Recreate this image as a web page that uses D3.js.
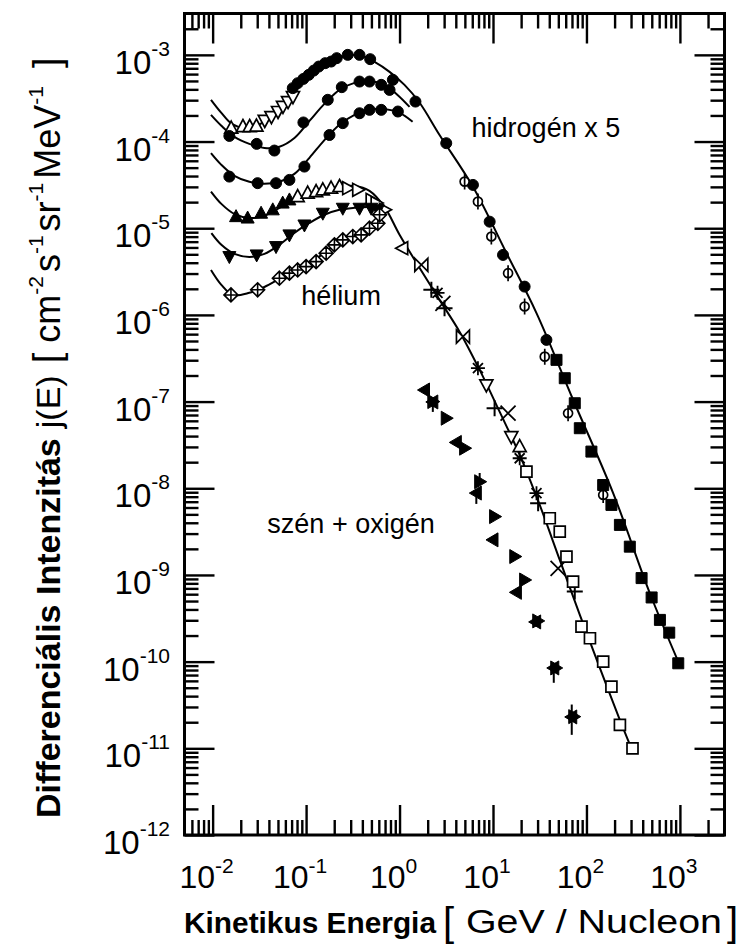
<!DOCTYPE html>
<html><head><meta charset="utf-8">
<script src="https://cdn.jsdelivr.net/npm/d3@7"></script>
<style>
body{margin:0;background:#fff}
svg{display:block}
text{font-family:"Liberation Sans",Arial,Helvetica,sans-serif;fill:#000}
</style>
</head><body>
<svg id="chart" width="743" height="944"></svg>
<script>
// ---------------- data (E in GeV/nucleon, j in cm^-2 s^-1 sr^-1 MeV^-1) ----------------
const xMajorExp = [-2,-1,0,1,2,3];
const yMajorExp = [-3,-4,-5,-6,-7,-8,-9,-10,-11,-12];

// model curves (solid lines)
const hCurveTop = [[0.0096,3.03e-4],[0.0124,2.14e-4],[0.016,1.6e-4],[0.0218,1.44e-4],[0.0301,1.52e-4],[0.0405,1.93e-4],[0.0557,2.72e-4],[0.0787,4.16e-4],[0.1086,5.88e-4],[0.157,7.87e-4],[0.2275,9.23e-4],[0.291,9.87e-4],[0.392,9.73e-4],[0.54,8.3e-4],[0.782,6.37e-4],[1.13,4.5e-4],[1.64,2.8e-4],[2.68,1.19e-4],[6.1,3.0e-5],[13.9,5.2e-6],[29.2,1.05e-6],[72,1.05e-7],[193,8.8e-9],[477,6.15e-10],[960,1.0e-10]];
const hCurveMid = [[0.0096,2.03e-4],[0.0124,1.52e-4],[0.0171,1.13e-4],[0.0247,9.4e-5],[0.0358,8.45e-5],[0.0518,8.7e-5],[0.075,1.1e-4],[0.1086,1.73e-4],[0.157,2.72e-4],[0.2275,3.95e-4],[0.33,4.75e-4],[0.477,5.0e-4],[0.69,4.5e-4],[0.952,3.45e-4],[1.28,2.51e-4]];
const hCurveLow = [[0.0096,7.35e-5],[0.0124,5.38e-5],[0.0171,4.02e-5],[0.0247,3.43e-5],[0.0358,3.25e-5],[0.0518,3.43e-5],[0.075,4.24e-5],[0.1086,6.49e-5],[0.157,1.04e-4],[0.2275,1.56e-4],[0.33,2.03e-4],[0.477,2.32e-4],[0.69,2.38e-4],[1.0,2.14e-4],[1.38,1.69e-4]];
const heCurveTop = [[0.0096,2.65e-5],[0.0124,1.91e-5],[0.0171,1.46e-5],[0.0247,1.31e-5],[0.0358,1.39e-5],[0.0518,1.72e-5],[0.075,2.12e-5],[0.1086,2.49e-5],[0.157,2.77e-5],[0.2275,3.0e-5],[0.33,3.08e-5],[0.477,2.7e-5],[0.69,1.76e-5],[1.0,8.4e-6],[1.64,3.48e-6],[2.68,1.49e-6],[4.4,6.37e-7],[7.2,2.32e-7],[11.8,7.6e-8],[19.3,2.43e-8],[31.6,6.43e-9],[51.8,1.49e-9],[84.9,3.46e-10],[139,8.45e-11],[228,2.12e-11],[313,9.1e-12]];
const heCurveMid = [[0.0097,8.77e-6],[0.0124,6.43e-6],[0.0171,5.06e-6],[0.0247,4.67e-6],[0.0358,5.06e-6],[0.0518,6.43e-6],[0.075,8.83e-6],[0.1086,1.15e-5],[0.157,1.43e-5],[0.2275,1.63e-5],[0.33,1.72e-5],[0.477,1.76e-5],[0.64,1.76e-5]];
const heCurveLow = [[0.0096,3.3e-6],[0.0124,2.22e-6],[0.0164,1.7e-6],[0.0247,1.8e-6],[0.0358,2.1e-6],[0.0518,2.6e-6],[0.075,3.22e-6],[0.1086,3.98e-6],[0.157,5.19e-6],[0.2275,6.95e-6],[0.33,8.17e-6],[0.477,1.01e-5],[0.67,1.6e-5]];

// hydrogen (x5) measurements
const hTriUpOpen = [[0.0158,1.43e-4],[0.0211,1.49e-4],[0.0249,1.49e-4],[0.0294,1.51e-4]];
const hTriDownOpen = [[0.0361,1.75e-4],[0.0426,1.94e-4],[0.0501,2.22e-4],[0.0566,2.54e-4],[0.0641,2.89e-4],[0.0724,3.30e-4]];
const hCircleTop = [[0.072,4.13e-4],[0.0813,4.71e-4],[0.0936,5.28e-4],[0.1067,5.88e-4],[0.1208,6.59e-4],[0.1366,7.33e-4],[0.16,8.02e-4],[0.1854,8.37e-4],[0.2128,9.16e-4],[0.279,1e-3],[0.3727,1e-3],[0.485,8.92e-4],[0.848,5.15e-4],[1.48,2.89e-4],[3.16,9.57e-5],[6.1,3.16e-5],[9.21,1.19e-5],[12.8,4.92e-6],[21.8,2.12e-6],[37.3,5.15e-7]];
const hCircleMid = [[0.0151,1.16e-4],[0.0296,9.4e-5],[0.0458,7.87e-5],[0.0936,1.66e-4],[0.1706,3.03e-4],[0.241,4.24e-4],[0.373,4.92e-4],[0.477,4.92e-4],[0.637,4.51e-4],[0.782,3.94e-4]];
const hCircleLow = [[0.0151,3.94e-5],[0.0303,3.31e-5],[0.0477,3.31e-5],[0.0663,3.61e-5],[0.096,5.14e-5],[0.178,1.19e-4],[0.247,1.63e-4],[0.373,2.12e-4],[0.477,2.32e-4],[0.637,2.32e-4],[0.96,2.22e-4]];
const hPhi = [[4.97,3.45e-5],[6.9,2.03e-5],[9.6,8.02e-6],[14.5,3.03e-6],[21.8,1.25e-6],[35.8,3.3e-7],[63.6,7.34e-8],[151,8.38e-9]];
const hSquare = [[47.8,3.03e-7],[58.6,1.86e-7],[75,9.57e-8],[84.9,4.93e-8],[113,2.65e-8],[151,1.09e-8],[185,6.43e-9],[228,3.78e-9],[291,2.12e-9],[389,9.2e-10],[498,5.5e-10],[611,3.03e-10],[769,2.16e-10],[960,9.57e-11]];

// helium measurements
const heTriUpFilled = [[0.0178,1.36e-5],[0.0237,1.31e-5],[0.033,1.49e-5],[0.044,1.63e-5],[0.0562,1.95e-5],[0.0663,2.12e-5]];
const heTriUpOpen = [[0.0813,2.32e-5],[0.104,2.54e-5],[0.128,2.65e-5],[0.151,2.77e-5],[0.185,2.9e-5],[0.228,3.03e-5],[19.3,3.03e-8]];
const heTriRightOpen = [[0.279,2.9e-5],[0.357,2.77e-5],[0.497,2.12e-5],[0.562,1.95e-5],[0.69,1.63e-5]];
const heTriDownFilled = [[0.0151,4.71e-6],[0.0296,4.92e-6],[0.0477,6.14e-6],[0.0663,8.38e-6],[0.096,1.09e-5],[0.151,1.49e-5],[0.247,1.70e-5],[0.373,1.70e-5],[0.497,1.70e-5],[0.586,1.63e-5]];
const heDiamond = [[0.0157,1.7e-6],[0.0303,1.95e-6],[0.0518,2.65e-6],[0.0663,3.03e-6],[0.0813,3.3e-6],[0.1,3.61e-6],[0.128,4.12e-6],[0.164,5.15e-6],[0.201,6.43e-6],[0.247,7.33e-6],[0.316,8.02e-6],[0.388,8.38e-6],[0.477,1.0e-5],[0.586,1.14e-5],[0.611,1.43e-5]];
const heTriLeftOpen = [[1.08,5.89e-6]];
const heTriDownOpen = [[8.49,1.56e-7],[15.7,3.94e-8]];
const heBowtie = [[1.71,3.78e-6],[4.77,5.62e-7]];
const hePlus = [[2.19,1.95e-6],[3.03,1.19e-6],[10.4,8.4e-8],[30.4,6.72e-9],[75,6.43e-10]];
const heCross = [[2.91,1.36e-6],[14.5,7.34e-8],[49.7,1.19e-9]];
const heStar = [[2.55,1.8e-6],[6.9,2.43e-7],[19.3,2.22e-8],[29.2,8.77e-9]];
const heSquareOpen = [[22.8,1.56e-8],[40.5,4.51e-9],[51.8,3.16e-9],[61.1,1.63e-9],[71.9,8.38e-10],[88.5,2.54e-10],[109,1.86e-10],[151,1.0e-10],[185,5.15e-11],[228,1.86e-11],[311,1.0e-11]];

// carbon + oxygen measurements: [E, j, lower, upper] (null = no error bar)
const coLeft = [[1.85,1.36e-7,null,null],[2.27,9.9e-8,7.6e-8,null],[4.05,3.38e-8,null,null],[6.63,8.8e-9,6.6e-9,null],[10.0,2.54e-9,null,null],[17.8,6.3e-10,null,null],[28.6,2.87e-10,null,null],[44.7,8.45e-11,5.7e-11,null],[69.6,2.3e-11,1.43e-11,3.2e-11]];
const coRight = [[2.27,1.0e-7,null,null],[3.16,6.43e-8,null,null],[4.97,2.9e-8,null,null],[7.2,1.19e-8,null,1.5e-8],[10.4,4.71e-9,null,null],[17.1,1.63e-9,null,null],[21.8,8.75e-10,null,null],[30.1,2.95e-10,null,null],[46.9,8.45e-11,null,null],[73.1,2.32e-11,null,null]];

const labels = [
  {text:"hidrogén x 5", E:5.9, j:1.12e-4},
  {text:"hélium", E:0.089, j:1.3e-6},
  {text:"szén + oxigén", E:0.0385, j:3.05e-9}
];

// ---------------- drawing ----------------
const svg = d3.select("#chart");
const x = d3.scaleLog().domain([0.005,3000]).range([184.5,724.5]);
const y = d3.scaleLog().domain([1e-12,3e-3]).range([835,13.5]);
const [X0,X1] = x.range(), [Y0,Y1] = y.range();

function minors(lo,hi){
  const out=[];
  for(let e=-13;e<=4;e++) for(let k=2;k<=9;k++){const v=k*Math.pow(10,e); if(v>lo*1.0001&&v<hi*0.9999) out.push(v);}
  return out;
}
const xMajor = xMajorExp.map(e=>Math.pow(10,e));
const yMajor = yMajorExp.map(e=>Math.pow(10,e));
const xMinor = minors(0.005,3000);
const yMinor = minors(1e-12,3e-3);

const axesG = svg.append("g");
function addAxis(gen, vals, size, tr){
  const g = axesG.append("g").attr("transform",tr)
    .call(gen.tickValues(vals).tickSize(size).tickSizeOuter(0).tickFormat(""));
  g.select(".domain").remove();
  g.selectAll("line").attr("stroke","#000").attr("stroke-width",2.4);
}
addAxis(d3.axisBottom(x), xMajor, -30, `translate(0,${Y0})`);
addAxis(d3.axisBottom(x), xMinor, -15, `translate(0,${Y0})`);
addAxis(d3.axisTop(x), xMajor, -30, `translate(0,${Y1})`);
addAxis(d3.axisTop(x), xMinor, -15, `translate(0,${Y1})`);
addAxis(d3.axisLeft(y), yMajor, -30, `translate(${X0},0)`);
addAxis(d3.axisLeft(y), yMinor, -14, `translate(${X0},0)`);
addAxis(d3.axisRight(y), yMajor, -30, `translate(${X1},0)`);
addAxis(d3.axisRight(y), yMinor, -14, `translate(${X1},0)`);

svg.append("rect").attr("x",X0).attr("y",Y1).attr("width",X1-X0).attr("height",Y0-Y1)
  .attr("fill","none").attr("stroke","#000").attr("stroke-width",3);

// tick labels
xMajorExp.forEach(e=>{
  const t = svg.append("text").attr("x",x(Math.pow(10,e))-6).attr("y",888).attr("text-anchor","middle");
  t.append("tspan").attr("font-size",32).text("10");
  t.append("tspan").attr("font-size",21).attr("dy",-15).text(String(e));
});
yMajorExp.forEach(e=>{
  const t = svg.append("text").attr("x",170).attr("y",y(Math.pow(10,e))+19).attr("text-anchor","end");
  t.append("tspan").attr("font-size",33).text("10");
  t.append("tspan").attr("font-size",21).attr("dy",-18).text(String(e));
});

// x axis title (pieces placed along the baseline)
const xTitle = svg.append("g");
xTitle.append("text").attr("x",184).attr("y",933).attr("font-weight","bold").attr("font-size",30)
  .attr("textLength",252).attr("lengthAdjust","spacingAndGlyphs").text("Kinetikus Energia");
xTitle.append("text").attr("x",443).attr("y",936).attr("font-size",40).text("[");
xTitle.append("text").attr("x",466).attr("y",933).attr("font-size",34)
  .attr("textLength",256).attr("lengthAdjust","spacingAndGlyphs").text("GeV / Nucleon");
xTitle.append("text").attr("x",727).attr("y",936).attr("font-size",40).text("]");

// y axis title (rotated)
const yt = svg.append("text").attr("transform","translate(60,818) rotate(-90)").attr("text-anchor","start");
yt.append("tspan").attr("font-weight","bold").attr("font-size",34).text("Differenciális Intenzitás");
yt.append("tspan").attr("font-size",34).attr("dx",10).text("j(E)");
yt.append("tspan").attr("font-size",38).attr("dx",12).text("[");
yt.append("tspan").attr("font-size",36).attr("dx",10).text("cm");
yt.append("tspan").attr("font-size",21).attr("dy",-17).text("-2");
yt.append("tspan").attr("font-size",36).attr("dy",17).attr("dx",4).text("s");
yt.append("tspan").attr("font-size",21).attr("dy",-17).text("-1");
yt.append("tspan").attr("font-size",36).attr("dy",17).attr("dx",4).text("sr");
yt.append("tspan").attr("font-size",21).attr("dy",-17).text("-1");
yt.append("tspan").attr("font-size",36).attr("dy",17).attr("dx",4).text("MeV");
yt.append("tspan").attr("font-size",21).attr("dy",-17).text("-1");
yt.append("tspan").attr("font-size",38).attr("dy",17).attr("dx",18).text("]");

// curves
const line = d3.line().x(d=>x(d[0])).y(d=>y(d[1])).curve(d3.curveCatmullRom.alpha(0.5));
[hCurveTop,hCurveMid,hCurveLow,heCurveTop,heCurveMid,heCurveLow].forEach(c=>{
  svg.append("path").attr("d",line(c)).attr("fill","none").attr("stroke","#000").attr("stroke-width",2);
});

// marker shapes
const S = {
  circle:"M5.5,0A5.5,5.5 0 1,1 -5.5,0A5.5,5.5 0 1,1 5.5,0Z",
  triUp:"M0,-7L6.5,5L-6.5,5Z",
  triDown:"M0,7L6.5,-5L-6.5,-5Z",
  triRight:"M7,0L-5,-6.5L-5,6.5Z",
  triLeft:"M-7,0L5,-6.5L5,6.5Z",
  bowtie:"M-6.5,-6.5L0,0L-6.5,6.5ZM6.5,-6.5L0,0L6.5,6.5Z",
  diamond:"M0,-7L7,0L0,7L-7,0ZM0,-7V7M-7,0H7",
  phi:"M4.5,0A4.5,4.5 0 1,1 -4.5,0A4.5,4.5 0 1,1 4.5,0ZM0,-8V8",
  square:"M-5.5,-5.5H5.5V5.5H-5.5Z",
  plus:"M-8,0H8M0,-8V8",
  cross:"M-7.5,-7.5L7.5,7.5M7.5,-7.5L-7.5,7.5",
  star:"M-7,0H7M0,-7V7M-5,-5L5,5M5,-5L-5,5",
  coLeft:"M-7,0L5,-7L5,7Z",
  coRight:"M7,0L-5,-7L-5,7Z"
};
function pts(data, shape, filled, sw){
  svg.append("g").selectAll("path").data(data).join("path")
    .attr("transform",d=>`translate(${x(d[0])},${y(d[1])})`)
    .attr("d",S[shape])
    .attr("fill",filled?"#000":"#fff")
    .attr("stroke","#000").attr("stroke-width",sw||1.7);
}
function ptsLine(data, shape, sw){
  svg.append("g").selectAll("path").data(data).join("path")
    .attr("transform",d=>`translate(${x(d[0])},${y(d[1])})`)
    .attr("d",S[shape]).attr("fill","none").attr("stroke","#000").attr("stroke-width",sw||1.8);
}

pts(hTriUpOpen,"triUp",false);
pts(hTriDownOpen,"triDown",false);
pts(hCircleTop,"circle",true,1);
pts(hCircleMid,"circle",true,1);
pts(hCircleLow,"circle",true,1);
pts(hPhi,"phi",false,1.7);
pts(hSquare,"square",true,1);

pts(heTriUpFilled,"triUp",true,1);
pts(heTriUpOpen,"triUp",false);
pts(heTriRightOpen,"triRight",false);
pts(heTriDownFilled,"triDown",true,1);
pts(heDiamond,"diamond",false,1.6);
pts(heTriLeftOpen,"triLeft",false);
pts(heTriDownOpen,"triDown",false);
pts(heBowtie,"bowtie",false);
ptsLine(hePlus,"plus",2);
ptsLine(heCross,"cross",1.8);
ptsLine(heStar,"star",1.8);
pts(heSquareOpen,"square",false,1.7);

function coPts(data, shape){
  const g = svg.append("g");
  g.selectAll("line").data(data.filter(d=>d[2]!==null||d[3]!==null)).join("line")
    .attr("x1",d=>x(d[0])).attr("x2",d=>x(d[0]))
    .attr("y1",d=>y(d[3]!==null?d[3]:d[1])).attr("y2",d=>y(d[2]!==null?d[2]:d[1]))
    .attr("stroke","#000").attr("stroke-width",2);
  g.selectAll("path").data(data).join("path")
    .attr("transform",d=>`translate(${x(d[0])},${y(d[1])})`)
    .attr("d",S[shape]).attr("fill","#000").attr("stroke","#000").attr("stroke-width",1);
}
coPts(coLeft,"coLeft");
coPts(coRight,"coRight");

// annotations
svg.append("g").selectAll("text").data(labels).join("text")
  .attr("x",d=>x(d.E)).attr("y",d=>y(d.j)).attr("font-size",27).text(d=>d.text);
</script>
</body></html>
